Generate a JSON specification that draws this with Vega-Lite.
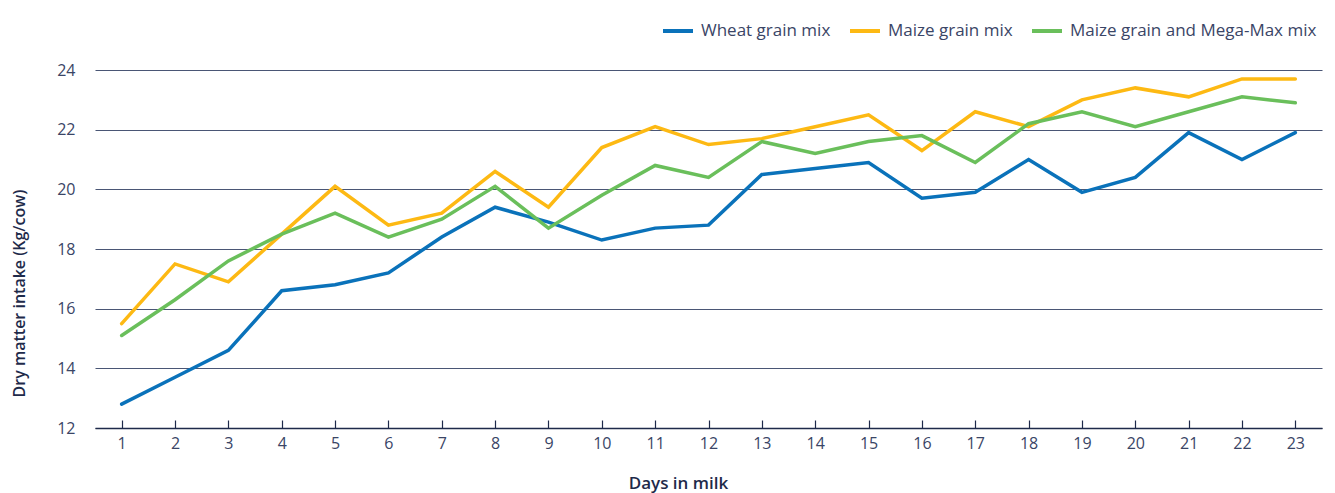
{
  "$schema": "https://vega.github.io/schema/vega-lite/v6.json",
  "width": 1227,
  "height": 358,
  "autosize": {"type": "none"},
  "padding": {"left": 95, "top": 70, "right": 13, "bottom": 65},
  "background": "white",
  "config": {
    "font": "Open Sans",
    "view": {"stroke": null}
  },
  "data": {
    "values": [
      {"day": 1, "series": "Wheat grain mix", "dmi": 12.8},
      {"day": 2, "series": "Wheat grain mix", "dmi": 13.7},
      {"day": 3, "series": "Wheat grain mix", "dmi": 14.6},
      {"day": 4, "series": "Wheat grain mix", "dmi": 16.6},
      {"day": 5, "series": "Wheat grain mix", "dmi": 16.8},
      {"day": 6, "series": "Wheat grain mix", "dmi": 17.2},
      {"day": 7, "series": "Wheat grain mix", "dmi": 18.4},
      {"day": 8, "series": "Wheat grain mix", "dmi": 19.4},
      {"day": 9, "series": "Wheat grain mix", "dmi": 18.9},
      {"day": 10, "series": "Wheat grain mix", "dmi": 18.3},
      {"day": 11, "series": "Wheat grain mix", "dmi": 18.7},
      {"day": 12, "series": "Wheat grain mix", "dmi": 18.8},
      {"day": 13, "series": "Wheat grain mix", "dmi": 20.5},
      {"day": 14, "series": "Wheat grain mix", "dmi": 20.7},
      {"day": 15, "series": "Wheat grain mix", "dmi": 20.9},
      {"day": 16, "series": "Wheat grain mix", "dmi": 19.7},
      {"day": 17, "series": "Wheat grain mix", "dmi": 19.9},
      {"day": 18, "series": "Wheat grain mix", "dmi": 21.0},
      {"day": 19, "series": "Wheat grain mix", "dmi": 19.9},
      {"day": 20, "series": "Wheat grain mix", "dmi": 20.4},
      {"day": 21, "series": "Wheat grain mix", "dmi": 21.9},
      {"day": 22, "series": "Wheat grain mix", "dmi": 21.0},
      {"day": 23, "series": "Wheat grain mix", "dmi": 21.9},
      {"day": 1, "series": "Maize grain mix", "dmi": 15.5},
      {"day": 2, "series": "Maize grain mix", "dmi": 17.5},
      {"day": 3, "series": "Maize grain mix", "dmi": 16.9},
      {"day": 4, "series": "Maize grain mix", "dmi": 18.5},
      {"day": 5, "series": "Maize grain mix", "dmi": 20.1},
      {"day": 6, "series": "Maize grain mix", "dmi": 18.8},
      {"day": 7, "series": "Maize grain mix", "dmi": 19.2},
      {"day": 8, "series": "Maize grain mix", "dmi": 20.6},
      {"day": 9, "series": "Maize grain mix", "dmi": 19.4},
      {"day": 10, "series": "Maize grain mix", "dmi": 21.4},
      {"day": 11, "series": "Maize grain mix", "dmi": 22.1},
      {"day": 12, "series": "Maize grain mix", "dmi": 21.5},
      {"day": 13, "series": "Maize grain mix", "dmi": 21.7},
      {"day": 14, "series": "Maize grain mix", "dmi": 22.1},
      {"day": 15, "series": "Maize grain mix", "dmi": 22.5},
      {"day": 16, "series": "Maize grain mix", "dmi": 21.3},
      {"day": 17, "series": "Maize grain mix", "dmi": 22.6},
      {"day": 18, "series": "Maize grain mix", "dmi": 22.1},
      {"day": 19, "series": "Maize grain mix", "dmi": 23.0},
      {"day": 20, "series": "Maize grain mix", "dmi": 23.4},
      {"day": 21, "series": "Maize grain mix", "dmi": 23.1},
      {"day": 22, "series": "Maize grain mix", "dmi": 23.7},
      {"day": 23, "series": "Maize grain mix", "dmi": 23.7},
      {"day": 1, "series": "Maize grain and Mega-Max mix", "dmi": 15.1},
      {"day": 2, "series": "Maize grain and Mega-Max mix", "dmi": 16.3},
      {"day": 3, "series": "Maize grain and Mega-Max mix", "dmi": 17.6},
      {"day": 4, "series": "Maize grain and Mega-Max mix", "dmi": 18.5},
      {"day": 5, "series": "Maize grain and Mega-Max mix", "dmi": 19.2},
      {"day": 6, "series": "Maize grain and Mega-Max mix", "dmi": 18.4},
      {"day": 7, "series": "Maize grain and Mega-Max mix", "dmi": 19.0},
      {"day": 8, "series": "Maize grain and Mega-Max mix", "dmi": 20.1},
      {"day": 9, "series": "Maize grain and Mega-Max mix", "dmi": 18.7},
      {"day": 10, "series": "Maize grain and Mega-Max mix", "dmi": 19.8},
      {"day": 11, "series": "Maize grain and Mega-Max mix", "dmi": 20.8},
      {"day": 12, "series": "Maize grain and Mega-Max mix", "dmi": 20.4},
      {"day": 13, "series": "Maize grain and Mega-Max mix", "dmi": 21.6},
      {"day": 14, "series": "Maize grain and Mega-Max mix", "dmi": 21.2},
      {"day": 15, "series": "Maize grain and Mega-Max mix", "dmi": 21.6},
      {"day": 16, "series": "Maize grain and Mega-Max mix", "dmi": 21.8},
      {"day": 17, "series": "Maize grain and Mega-Max mix", "dmi": 20.9},
      {"day": 18, "series": "Maize grain and Mega-Max mix", "dmi": 22.2},
      {"day": 19, "series": "Maize grain and Mega-Max mix", "dmi": 22.6},
      {"day": 20, "series": "Maize grain and Mega-Max mix", "dmi": 22.1},
      {"day": 21, "series": "Maize grain and Mega-Max mix", "dmi": 22.6},
      {"day": 22, "series": "Maize grain and Mega-Max mix", "dmi": 23.1},
      {"day": 23, "series": "Maize grain and Mega-Max mix", "dmi": 22.9}
    ]
  },
  "mark": {"type": "line", "strokeWidth": 3.5, "strokeJoin": "miter", "strokeCap": "round"},
  "encoding": {
    "x": {
      "field": "day",
      "type": "ordinal",
      "scale": {"type": "point", "padding": 0.5},
      "axis": {
        "title": "Days in milk",
        "titleFontSize": 17,
        "titleFontWeight": 600,
        "titleColor": "#1E2A4A",
        "titleX": 583,
        "titleY": 55,
        "titleAlign": "center",
        "titleBaseline": "middle",
        "labelAngle": 0,
        "labelFontSize": 16,
        "labelColor": "#3A4566",
        "labelPadding": 15,
        "domainColor": "#1E2A4A",
        "domainWidth": 1.5,
        "tickColor": "#1E2A4A",
        "tickSize": -8,
        "tickWidth": 1.2,
        "grid": false
      }
    },
    "y": {
      "field": "dmi",
      "type": "quantitative",
      "scale": {"domain": [12, 24], "nice": false},
      "axis": {
        "title": "Dry matter intake (Kg/cow)",
        "titleFontSize": 16,
        "titleFontWeight": 600,
        "titleColor": "#1E2A4A",
        "titleX": -76,
        "titleY": 223,
        "titleAngle": -90,
        "titleAlign": "center",
        "titleBaseline": "middle",
        "values": [12, 14, 16, 18, 20, 22, 24],
        "labelFontSize": 16,
        "labelColor": "#3A4566",
        "labelPadding": 20,
        "ticks": false,
        "domain": false,
        "grid": true,
        "gridColor": "#4A5675",
        "gridWidth": 1.2
      }
    },
    "color": {
      "field": "series",
      "type": "nominal",
      "scale": {
        "domain": ["Wheat grain mix", "Maize grain mix", "Maize grain and Mega-Max mix"],
        "range": ["#0A72BA", "#FDB913", "#6ABF5B"]
      },
      "legend": {
        "title": null,
        "orient": "none",
        "legendX": 566,
        "legendY": -56,
        "direction": "horizontal",
        "symbolType": "stroke",
        "symbolSize": 900,
        "symbolStrokeWidth": 4,
        "labelFontSize": 17,
        "labelLimit": 400,
        "labelColor": "#3A4566",
        "labelOffset": 6,
        "columnPadding": 11
      }
    }
  }
}
